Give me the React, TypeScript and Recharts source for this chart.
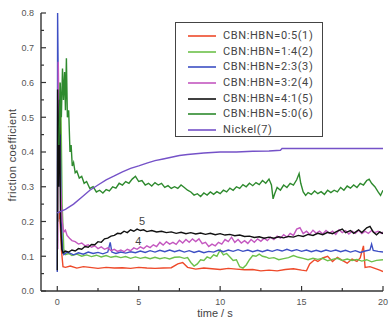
import React from 'react';
import { LineChart, Line, XAxis, YAxis, Legend, ReferenceDot } from 'recharts';

// [time (s), friction coefficient]
const s1: [number, number][] = [
  [0.05, 0.2], [0.15, 0.23], [0.25, 0.12], [0.35, 0.07], [0.5, 0.068], [0.8, 0.072], [1.2, 0.066], [1.6, 0.07],
  [2, 0.068], [2.5, 0.065], [3, 0.068], [3.5, 0.066], [4, 0.067], [4.5, 0.065], [5, 0.068], [5.5, 0.066],
  [6, 0.065], [6.5, 0.066], [7, 0.067], [7.4, 0.078], [7.7, 0.082], [8, 0.068], [8.5, 0.063], [9, 0.066],
  [9.5, 0.064], [10, 0.062], [10.5, 0.065], [11, 0.063], [11.5, 0.061], [12, 0.062], [12.5, 0.058], [13, 0.06],
  [13.5, 0.058], [14, 0.062], [14.5, 0.064], [15, 0.06], [15.3, 0.058], [15.5, 0.078], [15.8, 0.09], [16, 0.085],
  [16.3, 0.095], [16.6, 0.1], [16.9, 0.085], [17.2, 0.097], [17.5, 0.088], [17.8, 0.08], [18.1, 0.092], [18.4, 0.085],
  [18.6, 0.095], [18.8, 0.13], [18.9, 0.068], [19.2, 0.07], [19.5, 0.065], [19.8, 0.06], [20, 0.056],
];

const s2: [number, number][] = [
  [0.05, 0.2], [0.1, 0.6], [0.15, 0.35], [0.22, 0.55], [0.3, 0.25], [0.4, 0.12], [0.5, 0.105], [0.7, 0.108],
  [0.9, 0.102], [1.2, 0.106], [1.5, 0.1], [1.8, 0.104], [2.1, 0.099], [2.4, 0.103], [2.7, 0.098], [3.0, 0.102],
  [3.3, 0.097], [3.6, 0.1], [3.9, 0.096], [4.2, 0.099], [4.5, 0.094], [4.8, 0.098], [5.1, 0.094], [5.4, 0.097],
  [5.7, 0.093], [6.0, 0.097], [6.3, 0.093], [6.6, 0.096], [6.9, 0.092], [7.2, 0.097], [7.5, 0.098], [7.8, 0.094],
  [8.0, 0.096], [8.2, 0.082], [8.4, 0.072], [8.6, 0.078], [8.8, 0.09], [9.0, 0.088], [9.2, 0.098], [9.4, 0.094],
  [9.6, 0.104], [9.8, 0.1], [10.0, 0.118], [10.2, 0.104], [10.4, 0.108], [10.6, 0.098], [10.8, 0.088], [11.0, 0.09],
  [11.2, 0.07], [11.4, 0.066], [11.6, 0.075], [11.8, 0.09], [12.0, 0.102], [12.2, 0.1], [12.4, 0.106], [12.6, 0.1],
  [12.8, 0.098], [13.0, 0.094], [13.3, 0.096], [13.6, 0.09], [13.9, 0.093], [14.2, 0.096], [14.5, 0.102], [14.8, 0.097],
  [15.1, 0.094], [15.4, 0.09], [15.7, 0.094], [16.0, 0.091], [16.3, 0.094], [16.6, 0.087], [16.9, 0.091], [17.2, 0.094],
  [17.5, 0.088], [17.8, 0.092], [18.1, 0.088], [18.4, 0.091], [18.7, 0.086], [19.0, 0.09], [19.3, 0.084], [19.6, 0.088],
  [20.0, 0.09],
];

const s3: [number, number][] = [
  [0, 0.055], [0.02, 0.8], [0.06, 0.6], [0.1, 0.3], [0.18, 0.45], [0.25, 0.2], [0.32, 0.12], [0.4, 0.105],
  [0.6, 0.112], [0.8, 0.108], [1.0, 0.104], [1.3, 0.11], [1.6, 0.106], [1.9, 0.112], [2.2, 0.108], [2.5, 0.111],
  [2.8, 0.107], [3.1, 0.112], [3.25, 0.14], [3.35, 0.112], [3.6, 0.108], [3.9, 0.112], [4.2, 0.109], [4.5, 0.113],
  [4.8, 0.11], [5.1, 0.115], [5.4, 0.111], [5.7, 0.116], [6.0, 0.112], [6.3, 0.117], [6.6, 0.113], [6.9, 0.118],
  [7.2, 0.113], [7.5, 0.117], [7.8, 0.112], [8.1, 0.116], [8.4, 0.111], [8.7, 0.115], [9.0, 0.11], [9.3, 0.114],
  [9.6, 0.112], [9.9, 0.118], [10.2, 0.113], [10.5, 0.118], [10.8, 0.114], [11.1, 0.119], [11.4, 0.114], [11.7, 0.118],
  [12.0, 0.113], [12.3, 0.117], [12.6, 0.113], [12.9, 0.118], [13.2, 0.114], [13.5, 0.119], [13.8, 0.115], [14.1, 0.12],
  [14.4, 0.115], [14.7, 0.119], [15.0, 0.114], [15.3, 0.118], [15.6, 0.113], [15.9, 0.117], [16.2, 0.113], [16.5, 0.118],
  [16.8, 0.114], [17.1, 0.118], [17.4, 0.113], [17.7, 0.117], [18.0, 0.112], [18.3, 0.116], [18.6, 0.111], [18.9, 0.115],
  [19.2, 0.118], [19.3, 0.135], [19.4, 0.117], [19.7, 0.114], [20.0, 0.112],
];

const s4: [number, number][] = [
  [0.03, 0.12], [0.06, 0.66], [0.12, 0.45], [0.2, 0.3], [0.3, 0.2], [0.4, 0.17], [0.5, 0.175], [0.6, 0.16],
  [0.75, 0.152], [0.9, 0.145], [1.1, 0.142], [1.3, 0.135], [1.5, 0.138], [1.7, 0.13], [1.9, 0.133], [2.1, 0.126],
  [2.3, 0.13], [2.5, 0.122], [2.7, 0.127], [2.9, 0.12], [3.1, 0.124], [3.3, 0.116], [3.5, 0.12], [3.7, 0.114],
  [3.9, 0.118], [4.1, 0.113], [4.3, 0.12], [4.5, 0.116], [4.7, 0.124], [4.9, 0.12], [5.1, 0.127], [5.3, 0.122],
  [5.5, 0.13], [5.7, 0.125], [5.9, 0.133], [6.1, 0.128], [6.3, 0.14], [6.5, 0.132], [6.7, 0.142], [6.9, 0.135],
  [7.1, 0.14], [7.3, 0.134], [7.5, 0.146], [7.7, 0.138], [7.9, 0.148], [8.1, 0.14], [8.3, 0.15], [8.5, 0.142],
  [8.7, 0.15], [8.9, 0.136], [9.1, 0.14], [9.3, 0.128], [9.5, 0.135], [9.7, 0.13], [9.9, 0.14], [10.1, 0.135],
  [10.3, 0.148], [10.5, 0.142], [10.7, 0.155], [10.9, 0.14], [11.1, 0.148], [11.3, 0.138], [11.5, 0.145], [11.7, 0.137],
  [11.9, 0.148], [12.1, 0.14], [12.3, 0.15], [12.5, 0.143], [12.7, 0.152], [12.9, 0.145], [13.1, 0.155], [13.3, 0.148],
  [13.5, 0.158], [13.7, 0.152], [13.9, 0.162], [14.1, 0.155], [14.3, 0.166], [14.5, 0.16], [14.7, 0.178], [14.9, 0.182],
  [15.1, 0.165], [15.3, 0.172], [15.5, 0.163], [15.7, 0.175], [15.9, 0.166], [16.1, 0.172], [16.3, 0.164], [16.5, 0.174],
  [16.7, 0.166], [16.9, 0.172], [17.1, 0.163], [17.3, 0.176], [17.5, 0.168], [17.7, 0.174], [17.9, 0.164], [18.1, 0.172],
  [18.3, 0.166], [18.5, 0.175], [18.7, 0.165], [18.9, 0.172], [19.1, 0.166], [19.3, 0.174], [19.5, 0.168], [19.7, 0.172],
  [19.9, 0.166], [20.0, 0.17],
];

const s5: [number, number][] = [
  [0, 0.06], [0.02, 0.58], [0.08, 0.3], [0.14, 0.55], [0.2, 0.2], [0.28, 0.12], [0.35, 0.11], [0.5, 0.115],
  [0.7, 0.112], [0.9, 0.118], [1.1, 0.115], [1.3, 0.122], [1.5, 0.12], [1.7, 0.128], [1.9, 0.126], [2.1, 0.134],
  [2.3, 0.133], [2.5, 0.142], [2.7, 0.14], [2.9, 0.15], [3.1, 0.152], [3.3, 0.158], [3.5, 0.16], [3.7, 0.166],
  [3.9, 0.165], [4.1, 0.172], [4.3, 0.168], [4.5, 0.176], [4.7, 0.172], [4.9, 0.178], [5.1, 0.174], [5.3, 0.176],
  [5.5, 0.171], [5.8, 0.174], [6.1, 0.17], [6.4, 0.172], [6.7, 0.168], [7.0, 0.17], [7.3, 0.166], [7.6, 0.169],
  [7.9, 0.165], [8.2, 0.168], [8.5, 0.164], [8.8, 0.167], [9.1, 0.163], [9.4, 0.166], [9.7, 0.162], [10.0, 0.165],
  [10.3, 0.161], [10.6, 0.163], [10.9, 0.159], [11.2, 0.161], [11.5, 0.157], [11.8, 0.158], [12.1, 0.154], [12.4, 0.156],
  [12.7, 0.152], [13.0, 0.155], [13.3, 0.152], [13.6, 0.156], [13.9, 0.153], [14.2, 0.157], [14.5, 0.155], [14.8, 0.16],
  [15.1, 0.157], [15.4, 0.163], [15.7, 0.16], [16.0, 0.166], [16.3, 0.162], [16.6, 0.169], [16.9, 0.165], [17.2, 0.172],
  [17.5, 0.178], [17.7, 0.168], [18.0, 0.174], [18.2, 0.166], [18.5, 0.176], [18.7, 0.168], [19.0, 0.182], [19.2, 0.186],
  [19.4, 0.17], [19.6, 0.162], [19.8, 0.17], [20.0, 0.165],
];

const s6: [number, number][] = [
  [0.1, 0.42], [0.18, 0.6], [0.25, 0.5], [0.32, 0.64], [0.38, 0.55], [0.45, 0.63], [0.5, 0.52], [0.56, 0.67],
  [0.62, 0.5], [0.7, 0.52], [0.78, 0.4], [0.85, 0.42], [0.92, 0.36], [1.0, 0.37], [1.1, 0.34], [1.2, 0.345],
  [1.35, 0.325], [1.5, 0.33], [1.65, 0.31], [1.8, 0.315], [2.0, 0.295], [2.2, 0.3], [2.4, 0.285], [2.6, 0.29],
  [2.8, 0.282], [3.0, 0.292], [3.2, 0.288], [3.4, 0.3], [3.6, 0.296], [3.8, 0.31], [4.0, 0.305], [4.2, 0.315],
  [4.4, 0.31], [4.6, 0.322], [4.8, 0.33], [5.0, 0.315], [5.2, 0.318], [5.4, 0.305], [5.6, 0.31], [5.8, 0.302],
  [6.0, 0.312], [6.2, 0.305], [6.4, 0.31], [6.6, 0.298], [6.8, 0.303], [7.0, 0.295], [7.2, 0.3], [7.4, 0.295],
  [7.6, 0.305], [7.8, 0.298], [8.0, 0.29], [8.2, 0.285], [8.4, 0.276], [8.6, 0.28], [8.8, 0.272], [9.0, 0.282],
  [9.2, 0.276], [9.4, 0.285], [9.6, 0.278], [9.8, 0.286], [10.0, 0.28], [10.2, 0.29], [10.4, 0.285], [10.6, 0.296],
  [10.8, 0.29], [11.0, 0.3], [11.2, 0.295], [11.4, 0.306], [11.6, 0.3], [11.8, 0.31], [12.0, 0.303], [12.2, 0.312],
  [12.4, 0.306], [12.6, 0.318], [12.8, 0.31], [13.0, 0.322], [13.15, 0.305], [13.25, 0.265], [13.35, 0.28], [13.5, 0.298],
  [13.7, 0.29], [13.9, 0.305], [14.1, 0.298], [14.3, 0.31], [14.5, 0.305], [14.7, 0.32], [14.85, 0.338], [14.95, 0.31],
  [15.1, 0.285], [15.25, 0.275], [15.4, 0.283], [15.6, 0.278], [15.8, 0.288], [16.0, 0.28], [16.2, 0.286], [16.4, 0.278],
  [16.6, 0.29], [16.8, 0.283], [17.0, 0.29], [17.2, 0.285], [17.4, 0.298], [17.6, 0.29], [17.8, 0.302], [18.0, 0.296],
  [18.2, 0.305], [18.4, 0.298], [18.6, 0.31], [18.8, 0.305], [19.0, 0.318], [19.15, 0.322], [19.3, 0.31], [19.5, 0.3],
  [19.7, 0.285], [19.85, 0.275], [20.0, 0.29],
];

const s7: [number, number][] = [
  [0, 0.225], [0.5, 0.235], [1, 0.25], [1.5, 0.27], [2, 0.29], [2.5, 0.305], [3, 0.32], [3.5, 0.331],
  [4, 0.343], [4.5, 0.353], [5, 0.36], [5.5, 0.368], [6, 0.375], [6.5, 0.38], [7, 0.385], [7.5, 0.39],
  [8, 0.393], [9, 0.397], [10, 0.4], [11, 0.4], [12, 0.402], [13, 0.403], [13.7, 0.405], [13.8, 0.41],
  [15, 0.41], [17, 0.41], [20, 0.41],
];

const SERIES = [s1, s2, s3, s4, s5, s6, s7];
const NAMES = [
  'CBN:HBN=0:5(1)',
  'CBN:HBN=1:4(2)',
  'CBN:HBN=2:3(3)',
  'CBN:HBN=3:2(4)',
  'CBN:HBN=4:1(5)',
  'CBN:HBN=5:0(6)',
  'Nickel(7)',
];
const COLORS = ['#ee4a2a', '#6cc04a', '#3d4fc4', '#c458c0', '#111111', '#2e8a2e', '#7552c8'];

const X_TICKS = [0, 2.5, 5, 7.5, 10, 12.5, 15, 17.5, 20];
const Y_TICKS = [0, 0.05, 0.1, 0.15, 0.2, 0.25, 0.3, 0.35, 0.4, 0.45, 0.5, 0.55, 0.6, 0.65, 0.7, 0.75, 0.8];

const toPts = (arr: [number, number][]) => arr.map(([t, v]) => ({ t, v }));

const AXIS = '#333';
const FONT = '"Liberation Sans", Arial, sans-serif';

const YTick = (props: any) => {
  const { x, y, payload } = props;
  const val = payload.value as number;
  const major = Math.abs(val * 10 - Math.round(val * 10)) < 1e-6;
  return (
    <g>
      <line x1={x} x2={x + (major ? 5 : 3)} y1={y} y2={y} stroke={AXIS} strokeWidth={1.2} />
      {major && (
        <text x={x - 7} y={y} dy={3.3} textAnchor="end" fontSize={9} fill="#555" fontFamily={FONT}>
          {val.toFixed(1)}
        </text>
      )}
    </g>
  );
};

const XTick = (props: any) => {
  const { x, y, payload } = props;
  const val = payload.value as number;
  const major = val % 5 === 0;
  return (
    <g>
      <line x1={x} x2={x} y1={y} y2={y - (major ? 5 : 3)} stroke={AXIS} strokeWidth={1.2} />
      {major && (
        <text x={x} y={y + 14} textAnchor="middle" fontSize={9} fill="#555" fontFamily={FONT}>
          {val}
        </text>
      )}
    </g>
  );
};

const LegendBox = () => (
  <div
    style={{
      width: 148,
      height: 115,
      boxSizing: 'border-box',
      border: '1.5px solid #444',
      background: '#fff',
      padding: '5px 0 0 12px',
      fontFamily: 'Roboto, sans-serif',
      fontSize: 11,
      letterSpacing: 0.6,
      color: '#444',
    }}
  >
    {NAMES.map((n, i) => (
      <div key={n} style={{ display: 'flex', alignItems: 'center', height: 15.7 }}>
        <svg width={28} height={4} style={{ marginRight: 7 }}>
          <line x1={0} x2={28} y1={2} y2={2} stroke={COLORS[i]} strokeWidth={1.6} />
        </svg>
        <span style={{ lineHeight: '15.7px', whiteSpace: 'nowrap' }}>{n}</span>
      </div>
    ))}
  </div>
);

export default function App() {
  return (
    <div style={{ position: 'absolute', left: 0, top: 0, width: 389, height: 320, background: '#fff' }}>
      <LineChart width={389} height={320} margin={{ top: 13, right: 6, left: 0, bottom: 0 }}>
        <XAxis
          dataKey="t"
          type="number"
          domain={[-1, 20]}
          ticks={X_TICKS}
          interval={0}
          tickSize={0}
          tickMargin={0}
          tickLine={false}
          tick={<XTick />}
          height={29}
          axisLine={{ stroke: AXIS, strokeWidth: 1.4 }}
          allowDataOverflow
        />
        <YAxis
          type="number"
          domain={[0, 0.8]}
          ticks={Y_TICKS}
          interval={0}
          tickSize={0}
          tickMargin={0}
          tickLine={false}
          tick={<YTick />}
          width={41}
          axisLine={{ stroke: AXIS, strokeWidth: 1.4 }}
          allowDataOverflow
        />
        {SERIES.map((s, i) => (
          <Line
            key={NAMES[i]}
            data={toPts(s)}
            dataKey="v"
            name={NAMES[i]}
            type="linear"
            stroke={COLORS[i]}
            strokeWidth={1.4}
            dot={false}
            isAnimationActive={false}
          />
        ))}
        <ReferenceDot
          x={5.2}
          y={0.2}
          r={0}
          fill="none"
          stroke="none"
          ifOverflow="visible"
          label={{ value: '5', position: 'center', fontSize: 11, fill: '#444', fontFamily: FONT }}
        />
        <ReferenceDot
          x={4.97}
          y={0.144}
          r={0}
          fill="none"
          stroke="none"
          ifOverflow="visible"
          label={{ value: '4', position: 'center', fontSize: 11, fill: '#444', fontFamily: FONT }}
        />
        <Legend
          layout="vertical"
          align="center"
          verticalAlign="middle"
          content={<LegendBox />}
          wrapperStyle={{ left: 175, top: 22, width: 148, height: 115 }}
        />
      </LineChart>
      <div
        style={{
          position: 'absolute',
          left: 12,
          top: 155,
          transform: 'translate(-50%, -50%) rotate(-90deg)',
          whiteSpace: 'nowrap',
          fontFamily: FONT,
          fontSize: 11,
          letterSpacing: 0.4,
          color: '#444',
        }}
      >
        friction coefficient
      </div>
      <div
        style={{
          position: 'absolute',
          left: 215,
          top: 313,
          transform: 'translate(-50%, -50%)',
          whiteSpace: 'nowrap',
          fontFamily: FONT,
          fontSize: 11,
          color: '#444',
        }}
      >
        time / s
      </div>
    </div>
  );
}
